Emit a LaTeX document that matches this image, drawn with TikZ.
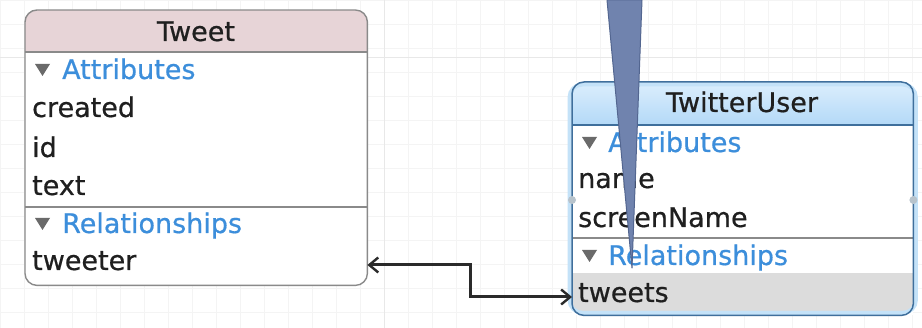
\documentclass[tikz,border=0pt]{standalone}
\usepackage{fontspec}
\setmainfont[FakeBold=0.5]{DejaVu Sans}
\newfontfamily\entityfont[FakeBold=0.6]{DejaVu Sans}
\usetikzlibrary{arrows.meta}
\definecolor{gridminor}{HTML}{F4F4F4}
\definecolor{gridmajor}{HTML}{E8E8E8}
\definecolor{pinkhead}{HTML}{E7D4D7}
\definecolor{bluetop}{HTML}{DCEEFD}
\definecolor{bluebot}{HTML}{B3D9F7}
\definecolor{greyborder}{HTML}{8A8A8A}
\definecolor{blueborder}{HTML}{3F6F9C}
\definecolor{blueglow}{HTML}{C4E2F8}
\definecolor{secttext}{HTML}{3C8EDB}
\definecolor{disclose}{HTML}{6A6A6A}
\definecolor{selband}{HTML}{DCDCDC}
\definecolor{linkcol}{HTML}{2A2A2A}
\definecolor{calloutfill}{HTML}{7083AE}
\definecolor{calloutedge}{HTML}{536690}
\definecolor{handle}{HTML}{B7C3CC}

\tikzset{
  entitybox/.style={anchor=north west, inner sep=0pt, fill=white},
  item/.style={anchor=base west, inner sep=0pt, font=\entityfont\fontsize{27}{30}\selectfont, text=black!88},
  title/.style={anchor=base, inner sep=0pt, font=\entityfont\fontsize{27}{30}\selectfont, text=black!88},
  sect/.style={anchor=base west, inner sep=0pt, font=\entityfont\fontsize{27}{30}\selectfont, text=secttext},
  tri/.style={fill=disclose},
  sepline/.style={draw=greyborder, line width=1.2pt},
  link/.style={draw=linkcol, line width=3pt,
    {Straight Barb[length=9pt,width=15pt,line width=2.4pt]}-{Straight Barb[length=9pt,width=15pt,line width=2.4pt]}},
}

\begin{document}
\begin{tikzpicture}[x=1pt,y=-1pt]
\useasboundingbox (0,0) rectangle (922,328);
\fill[white] (0,0) rectangle (922,328);

% canvas grid
\draw[gridminor, line width=0.8pt] (0,0) grid[step=24pt] (922,328);
\draw[gridmajor, line width=1pt] (0,58) -- (922,58);
\draw[gridmajor, line width=1pt] (384,0) -- (384,328);

% ---- Tweet entity ----
\node[entitybox, minimum width=342pt, minimum height=275pt] (tweet) at (25,10) {};
\begin{scope}
  \clip[rounded corners=12pt] (tweet.north west) rectangle (tweet.south east);
  \fill[pinkhead] (tweet.north west) rectangle ([yshift=-42pt]tweet.north east);
\end{scope}
\draw[sepline] ([yshift=-42pt]tweet.north west) -- ([yshift=-42pt]tweet.north east);
\draw[sepline] (tweet.west |- 0,207) -- (tweet.east |- 0,207);
\draw[draw=greyborder, line width=1.4pt, rounded corners=12pt] (tweet.north west) rectangle (tweet.south east);

\node[title] (ttitle) at (196,41) {Tweet};
\node[sect] (tattr) at (62,79) {Attributes};
\fill[tri] ([xshift=-27pt,yshift=15pt]tattr.base west) -- ++(15,0) -- ++(-7.5,12) -- cycle;
\node[item] (tcreated) at (32,117) {created};
\node[item] (tid) at (32,157) {id};
\node[item] (ttext) at (32,195) {text};
\node[sect] (trel) at (62,233) {Relationships};
\fill[tri] ([xshift=-27pt,yshift=15pt]trel.base west) -- ++(15,0) -- ++(-7.5,12) -- cycle;
\node[item] (ttweeter) at (32,270) {tweeter};

% ---- TwitterUser entity ----
\node[entitybox, minimum width=341pt, minimum height=233pt] (user) at (572,82) {};
\begin{scope}
  \clip[rounded corners=12pt] (user.north west) rectangle (user.south east);
  \shade[top color=bluetop, bottom color=bluebot] (user.north west) rectangle ([yshift=-43pt]user.north east);
  \fill[selband] (user.west |- 0,273) rectangle (user.south east);
\end{scope}
\draw[draw=blueborder, line width=1.2pt] ([yshift=-43pt]user.north west) -- ([yshift=-43pt]user.north east);
\draw[sepline] (user.west |- 0,238) -- (user.east |- 0,238);
\draw[draw=blueglow, line width=4pt, rounded corners=13pt] ([shift={(-2.5,2.5)}]user.north west) rectangle ([shift={(2.5,-2.5)}]user.south east);
\draw[draw=blueborder, line width=1.5pt, rounded corners=12pt] (user.north west) rectangle (user.south east);

\node[title] (utitle) at (742,112) {TwitterUser};
\node[sect] (uattr) at (608,152) {Attributes};
\fill[tri] ([xshift=-26pt,yshift=15pt]uattr.base west) -- ++(15,0) -- ++(-7.5,12) -- cycle;
\node[item] (uname) at (578,188) {name};
\node[item] (uscreen) at (578,227) {screenName};
\node[sect] (urel) at (608,265) {Relationships};
\fill[tri] ([xshift=-26pt,yshift=15pt]urel.base west) -- ++(15,0) -- ++(-7.5,12) -- cycle;
\node[item] (utweets) at (578,302) {tweets};

% connection handles on the selected entity
\fill[handle] (user.west |- 0,200) circle (4pt);
\fill[handle] (user.east |- 0,200) circle (4pt);

% ---- relationship connector ----
\coordinate (tweeterport) at (tweet.east |- 0,265);
\coordinate (tweetsport) at (user.west |- 0,297);
\coordinate (bend) at (470,0);
\draw[link] (tweeterport) -- (tweeterport -| bend) |- (tweetsport);

% ---- pointer callout ----
\fill[calloutfill, draw=calloutedge, line width=1pt, line join=round]
  (607,0) -- (642,0) -- (632,268) -- cycle;
\end{tikzpicture}
\end{document}
